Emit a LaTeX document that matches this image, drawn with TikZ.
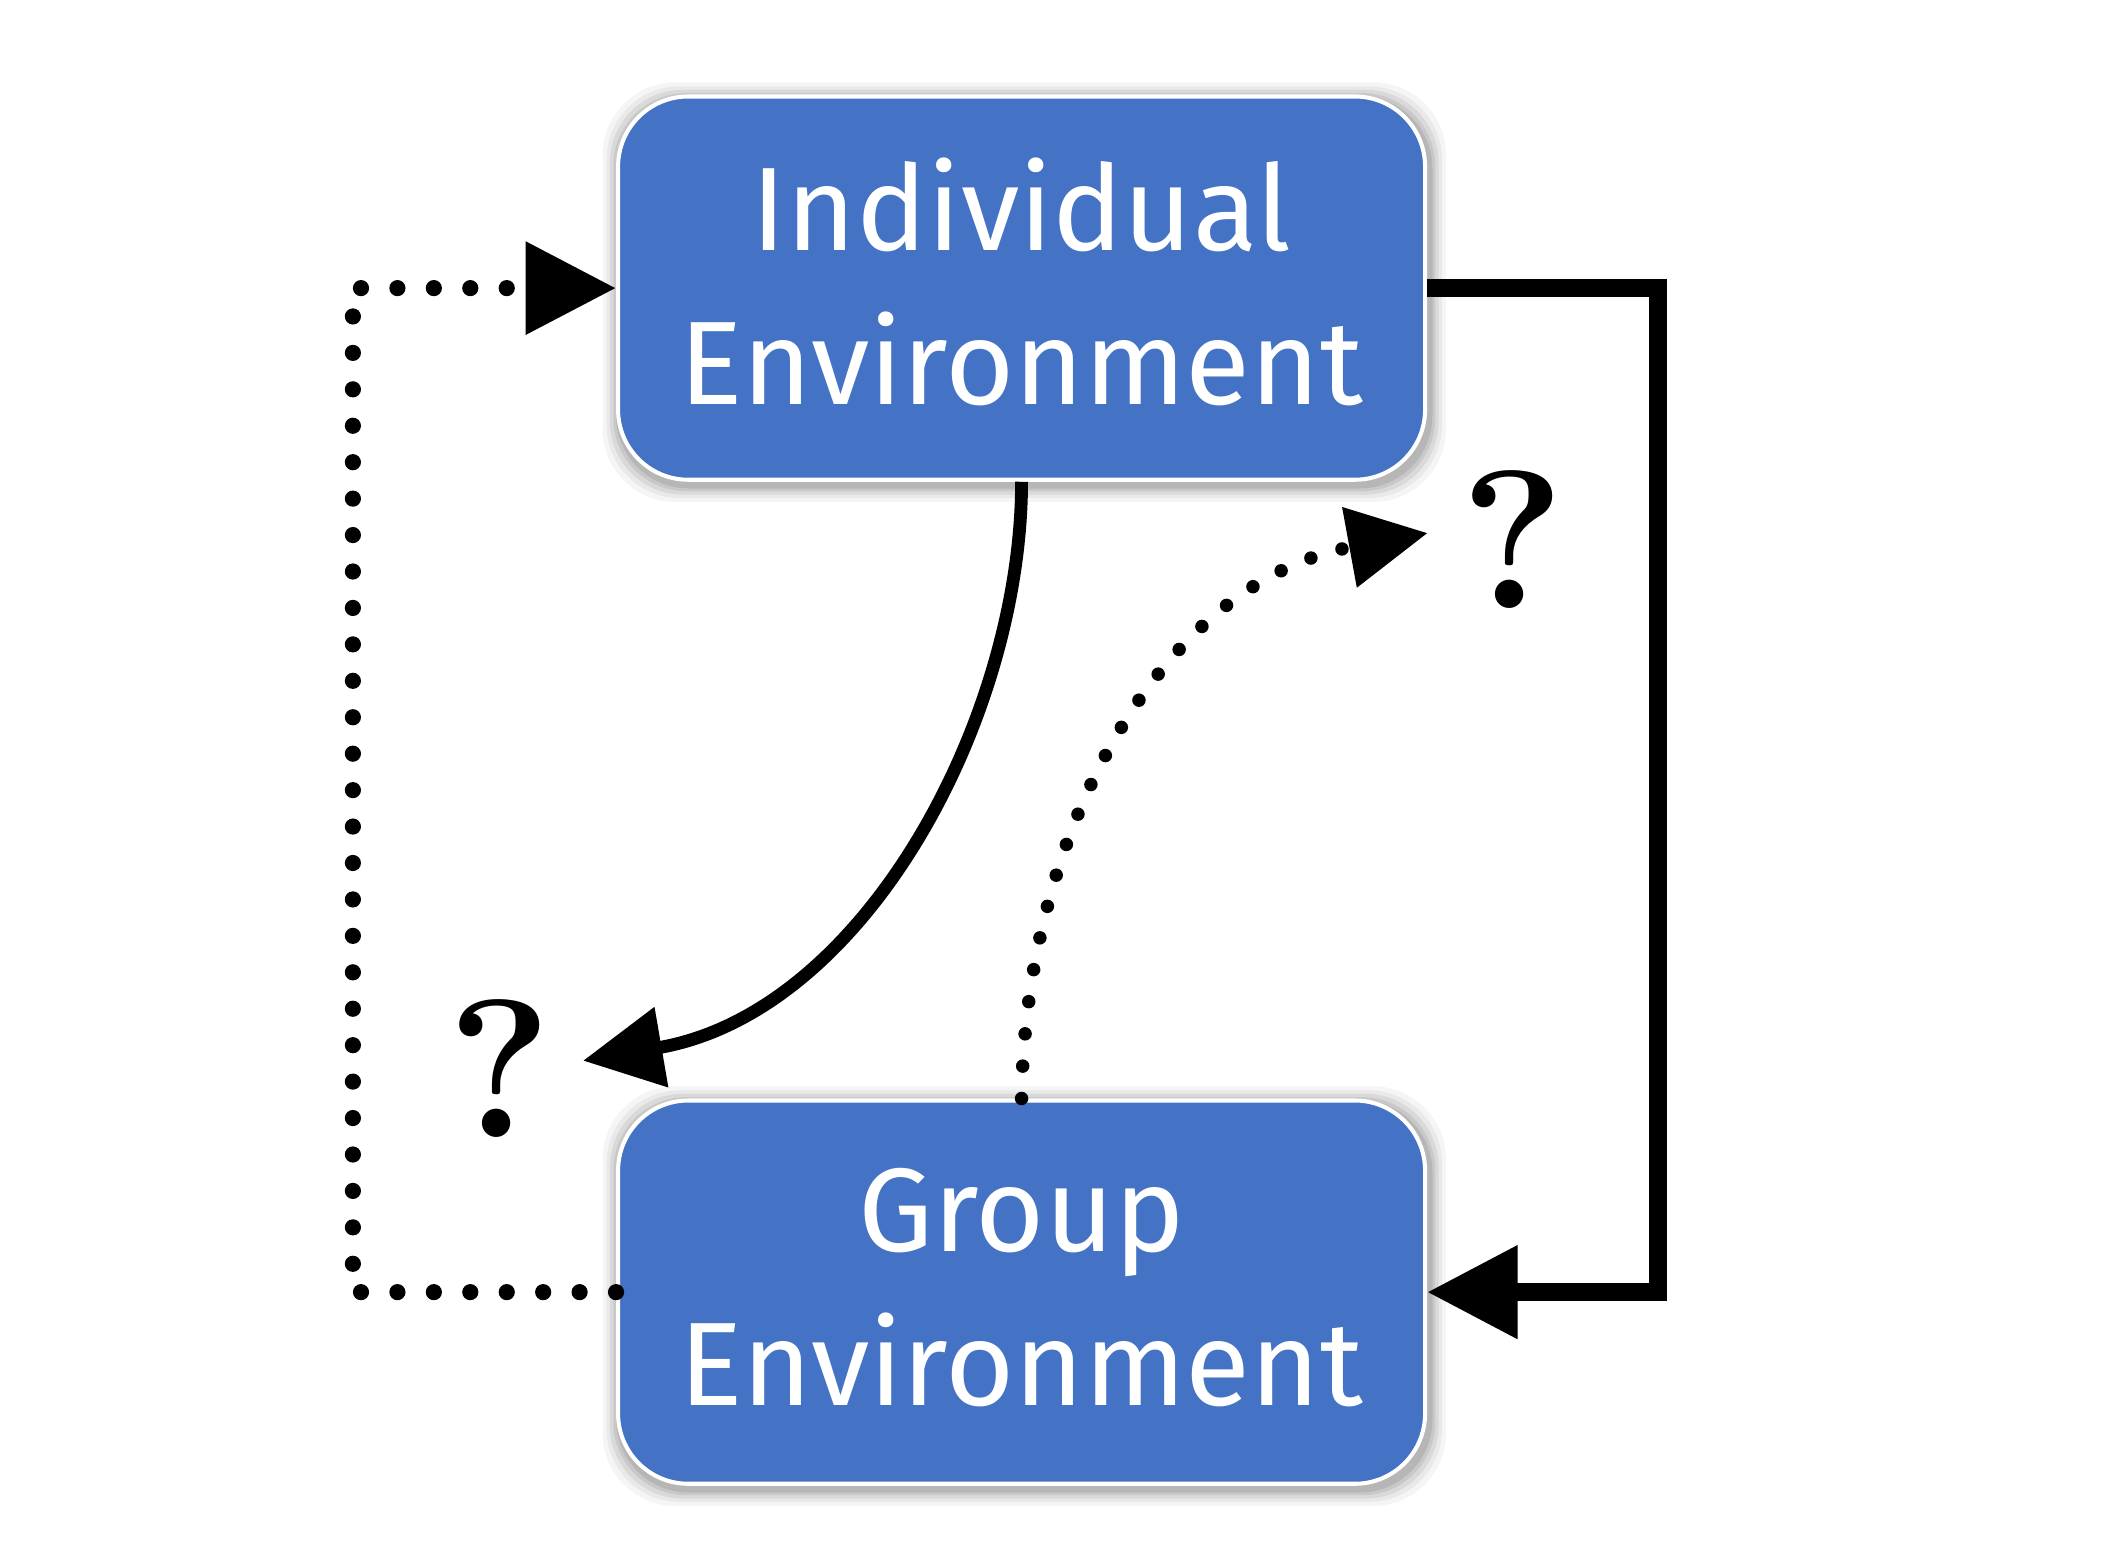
\documentclass[tikz,border=0pt]{standalone}
\usepackage{fontspec}
\newfontfamily\boxfont{Fira Sans}
\usetikzlibrary{arrows.meta,backgrounds}
\definecolor{boxblue}{HTML}{4472C4}
\begin{document}
\begin{tikzpicture}[x=0.5pt,y=-0.5pt,
  envbox/.style={rounded corners=26pt, fill=boxblue, draw=white, line width=1.5pt,
    minimum width=299pt, minimum height=142pt},
  envtext/.style={text=white, align=center, inner sep=0pt,
    font=\boxfont\fontsize{44}{57}\selectfont},
  boxshadow/.style={fill=black, rounded corners=27pt},
  thickline/.style={line width=6.5pt},
  curveline/.style={line width=4.75pt},
  dotline/.style={line width=6pt, line cap=round, dash pattern=on 0pt off 13.5pt},
  dotcurve/.style={line width=5pt, line cap=round, dash pattern=on 0pt off 12pt},
  bigtip/.style={-{Triangle[length=33.5pt,width=33pt]}},
  smalltip/.style={-{Triangle[length=29.5pt,width=29pt]}},
  qmark/.style={font=\bfseries\fontsize{73}{80}\selectfont, inner sep=0pt}
]
\useasboundingbox (0,0) rectangle (1568,1143.4);
\node[envbox] (b1) at (757,213.5) {};
\node[envbox] (b2) at (757,957.5) {};
\node[envtext] (l1) at ([yshift=2.3pt]b1.center) {Individual\\Environment};
\node[envtext] (l2) at ([yshift=1.6pt]b2.center) {Group\\Environment};
\begin{scope}[on background layer]
\foreach \n in {b1,b2}{
  \foreach \d/\o in {12/0.04,9/0.05,6.5/0.07,4/0.08,2/0.09}{
    \fill[boxshadow, opacity=\o] ([shift={(2-\d,3-\d)}]\n.north west) rectangle ([shift={(2+\d,3+\d)}]\n.south east);
  }}
\end{scope}
\node[qmark] (q1) at (370,791.5) {?};
\node[qmark] (q2) at (1121,400) {?};
\coordinate (t1) at (432,786);
\coordinate (t2) at (1058,395);
\draw[thickline, bigtip] (b1.east) -- ++(171,0) |- (b2.east);
\draw[dotline, bigtip] (b2.west) -- ++(-195,0) |- (b1.west);
\draw[curveline, smalltip] (b1.south) .. controls +(0,175) and +(209,-36) .. (t1);
\draw[dotcurve, smalltip] (b2.north) .. controls +(3,-200) and +(-197,36) .. (t2);
\end{tikzpicture}
\end{document}
